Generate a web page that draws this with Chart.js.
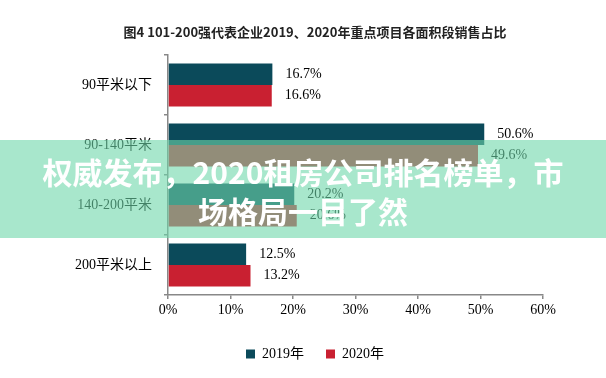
<!DOCTYPE html>
<html>
<head>
<meta charset="utf-8">
<script src="https://cdn.jsdelivr.net/npm/chart.js@4/dist/chart.umd.min.js"></script>
<style>
  body { margin: 0; background: #fff; }
  #wrap { position: relative; width: 606px; height: 378px; overflow: hidden; }
  #banner {
    position: absolute; left: 0; top: 140px; width: 606px; height: 98px;
    background: rgba(110, 215, 170, 0.6);
    color: #fff; font-family: "Noto Sans CJK SC", sans-serif; font-weight: bold;
    font-size: 30px; line-height: 39px; text-align: center;
    box-sizing: border-box; padding-top: 12px;
  }
</style>
</head>
<body>
<div id="wrap">
  <canvas id="chart" width="606" height="378"></canvas>
  <div id="banner">权威发布，2020租房公司排名榜单，市<br>场格局一目了然</div>
</div>
<script>
const titleText = "图4 101-200强代表企业2019、2020年重点项目各面积段销售占比";
const categories = ["90平米以下", "90-140平米", "140-200平米", "200平米以上"];
const seriesNames = ["2019年", "2020年"];
const values2019 = [16.7, 50.6, 20.2, 12.5];
const values2020 = [16.6, 49.6, 20.6, 13.2];
const xTicks = [0, 10, 20, 30, 40, 50, 60];

const serif = '"Liberation Serif", "Noto Sans CJK SC", serif';

// 柱子末端的数值标签
const valueLabels = {
  id: "valueLabels",
  afterDatasetsDraw(chart) {
    const ctx = chart.ctx;
    ctx.save();
    ctx.font = "14px " + serif;
    ctx.fillStyle = "#000";
    ctx.textAlign = "left";
    ctx.textBaseline = "middle";
    chart.data.datasets.forEach((ds, i) => {
      chart.getDatasetMeta(i).data.forEach((bar, j) => {
        ctx.fillText(ds.data[j].toFixed(1) + "%", bar.x + 13, bar.y);
      });
    });
    ctx.restore();
  }
};

new Chart(document.getElementById("chart"), {
  type: "bar",
  data: {
    labels: categories,
    datasets: [
      { label: seriesNames[0], data: values2019, backgroundColor: "#0b4a5a", yAxisID: "y",
        categoryPercentage: 0.72, barPercentage: 1.0 },
      { label: seriesNames[1], data: values2020, backgroundColor: "#c92031", yAxisID: "y",
        categoryPercentage: 0.72, barPercentage: 1.0 }
    ]
  },
  options: {
    indexAxis: "y",
    responsive: false,
    animation: false,
    devicePixelRatio: 1,
    layout: { padding: { left: 24, right: 0, top: 0, bottom: 7 } },
    scales: {
      x: {
        min: 0, max: 60,
        afterBuildTicks: (scale) => { scale.ticks = xTicks.map(v => ({ value: v })); },
        afterFit: (scale) => { scale.height = 30; },
        grid: { drawOnChartArea: false, drawTicks: true, tickLength: 4, color: "#888", lineWidth: 1.5 },
        border: { display: true, color: "#888", width: 1.5 },
        ticks: { color: "#000", font: { family: serif, size: 14 }, padding: 3,
          callback: (v) => v + "%" }
      },
      y: {
        afterFit: (scale) => { scale.width = 144; },
        grid: { drawOnChartArea: false, drawTicks: true, tickLength: 4, color: "#888", lineWidth: 1.5 },
        border: { display: true, color: "#888", width: 1.5 },
        ticks: { color: "#000", font: { family: serif, size: 14 }, padding: 12 }
      },
      // 右侧留白（不显示）
      yRight: {
        type: "linear", axis: "y", position: "right",
        afterFit: (scale) => { scale.width = 63; },
        grid: { display: false },
        border: { display: false },
        ticks: { display: false }
      }
    },
    plugins: {
      title: {
        display: true, text: titleText, color: "#222",
        font: { family: '"Noto Sans CJK SC", sans-serif', size: 13, weight: "bold" },
        padding: { top: 24, bottom: 15.4 }
      },
      legend: {
        position: "bottom",
        labels: { color: "#000", font: { family: serif, size: 14 },
          boxWidth: 9, boxHeight: 9, padding: 22 }
      },
      tooltip: { enabled: false }
    }
  },
  plugins: [valueLabels]
});
</script>
</body>
</html>
